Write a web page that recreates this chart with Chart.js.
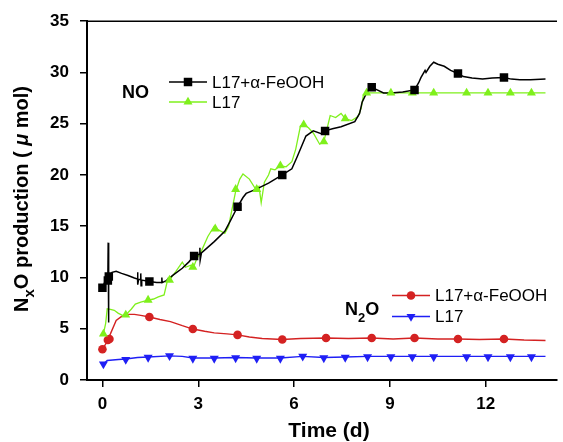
<!DOCTYPE html>
<html>
<head>
<meta charset="utf-8">
<script src="https://cdn.jsdelivr.net/npm/chart.js@4/dist/chart.umd.min.js"></script>
<style>
  html, body { margin: 0; padding: 0; background: #fff; overflow: hidden; }
  #wrap { width: 563px; height: 442px; }
</style>
</head>
<body>
<div id="wrap"><canvas id="chart" width="563" height="442"></canvas></div>
<script>
// x ticks shown on the time axis (days)
const xTicks = [0, 3, 6, 9, 12];

// NO, L17 + alpha-FeOOH: trace [day, umol] and marker points
const noFeLine = [
  [0, 9.0], [0.08, 9.6], [0.17, 10.0], [0.18, 13.4], [0.19, 5.6], [0.2, 10.1], [0.3, 10.5],
  [0.43, 10.6], [0.6, 10.4], [0.8, 10.2], [1.0, 9.95], [1.1, 9.85], [1.1, 10.5], [1.11, 9.3],
  [1.13, 9.8], [1.2, 9.8], [1.2, 10.4], [1.21, 9.2], [1.23, 9.75], [1.47, 9.6], [1.7, 9.5],
  [1.85, 9.5], [1.86, 10.0], [1.87, 9.5], [2.0, 9.7], [2.2, 10.2], [2.5, 10.9], [2.7, 11.5],
  [2.87, 12.1], [3.05, 12.3], [3.05, 12.9], [3.06, 11.7], [3.1, 12.4], [3.5, 13.5], [3.83, 14.5],
  [4.0, 15.5], [4.23, 16.9], [4.4, 17.8], [4.5, 18.2], [4.8, 18.6], [5.2, 19.2], [5.63, 20.0],
  [5.93, 20.6], [6.1, 21.8], [6.37, 23.8], [6.6, 24.3], [6.87, 24.0], [6.97, 24.3], [7.2, 24.5],
  [7.47, 24.7], [7.9, 25.2], [8.05, 26.0], [8.13, 27.1], [8.3, 28.2], [8.43, 28.55], [8.6, 28.3],
  [8.8, 28.0], [9.03, 28.0], [9.4, 28.1], [9.77, 28.3], [9.9, 29.0], [9.97, 29.5], [10.1, 30.2],
  [10.13, 30.0], [10.25, 30.6], [10.37, 31.0], [10.5, 30.8], [10.7, 30.6], [10.9, 30.2],
  [11.13, 29.9], [11.3, 29.6], [11.57, 29.45], [11.9, 29.35], [12.2, 29.45], [12.57, 29.5],
  [12.8, 29.35], [13.07, 29.3], [13.4, 29.3], [13.87, 29.35]
];
const noFeMarks = [
  [0, 9.0], [0.17, 9.7], [0.2, 10.1], [1.47, 9.6], [2.87, 12.1], [4.23, 16.9], [5.63, 20.0],
  [6.97, 24.3], [8.43, 28.55], [9.77, 28.3], [11.13, 29.9], [12.57, 29.5]
];

// NO, L17
const noLine = [
  [0.03, 4.5], [0.1, 5.5], [0.15, 6.95], [0.25, 6.9], [0.37, 6.8], [0.5, 6.5], [0.63, 6.3],
  [0.73, 6.35], [0.9, 6.9], [1.03, 7.4], [1.2, 7.6], [1.43, 7.8], [1.6, 7.9], [1.75, 8.1],
  [1.93, 8.3], [2.05, 9.9], [2.1, 9.75], [2.3, 10.6], [2.5, 11.5], [2.6, 11.0], [2.77, 11.2],
  [2.85, 11.0], [2.95, 11.8], [3.1, 12.6], [3.3, 14.0], [3.5, 15.0], [3.6, 14.7], [3.83, 14.3],
  [3.95, 15.0], [4.17, 18.4], [4.3, 19.6], [4.4, 20.1], [4.6, 19.6], [4.8, 18.6], [4.9, 18.9],
  [4.97, 17.3], [5.07, 19.3], [5.2, 20.0], [5.27, 20.6], [5.4, 20.5], [5.57, 20.9], [5.75, 20.8],
  [5.93, 21.3], [6.05, 22.5], [6.2, 24.8], [6.3, 24.9], [6.45, 24.6], [6.6, 24.1], [6.8, 23.0],
  [6.93, 23.25], [7.03, 24.5], [7.13, 25.8], [7.3, 25.6], [7.47, 26.0], [7.6, 25.5], [7.8, 25.3],
  [8.0, 25.7], [8.1, 26.5], [8.17, 27.8], [8.27, 28.0], [13.87, 28.0]
];
const noMarks = [
  [0.03, 4.5], [0.73, 6.35], [1.43, 7.8], [2.1, 9.75], [2.83, 11.0], [3.53, 14.75], [4.17, 18.6],
  [4.83, 18.6], [5.57, 20.9], [6.3, 24.9], [6.93, 23.25], [7.6, 25.5], [8.27, 28.0], [9.03, 28.0],
  [9.7, 28.0], [10.37, 28.0], [11.4, 28.0], [12.07, 28.0], [12.77, 28.0], [13.43, 28.0]
];

// N2O, L17 + alpha-FeOOH
const n2oFeLine = [
  [0, 3.0], [0.1, 3.5], [0.17, 4.0], [0.25, 4.5], [0.43, 5.8], [0.6, 6.2], [0.77, 6.4], [1.0, 6.4],
  [1.2, 6.3], [1.47, 6.15], [1.8, 5.9], [2.13, 5.7], [2.5, 5.3], [2.83, 4.97], [3.2, 4.75],
  [3.5, 4.6], [3.9, 4.5], [4.23, 4.4], [4.6, 4.2], [5.0, 4.05], [5.63, 3.95], [6.2, 4.05],
  [7.0, 4.1], [7.7, 4.05], [8.43, 4.1], [9.1, 4.0], [9.77, 4.1], [10.5, 4.0], [11.13, 4.0],
  [11.8, 3.95], [12.57, 4.0], [13.2, 3.9], [13.87, 3.85]
];
const n2oFeMarks = [
  [0, 3.0], [0.17, 3.9], [0.22, 4.0], [1.47, 6.15], [2.83, 4.97], [4.23, 4.4], [5.63, 3.95],
  [7.0, 4.1], [8.43, 4.1], [9.77, 4.1], [11.13, 4.0], [12.57, 4.0]
];

// N2O, L17
const n2oLine = [
  [0.03, 1.55], [0.15, 1.9], [0.5, 2.0], [0.73, 2.05], [1.1, 2.2], [1.43, 2.25], [2.1, 2.35],
  [2.5, 2.3], [2.83, 2.15], [3.5, 2.15], [4.17, 2.2], [4.83, 2.15], [5.57, 2.15], [6.27, 2.3],
  [6.93, 2.2], [7.6, 2.25], [8.3, 2.3], [13.87, 2.3]
];
const n2oMarks = [
  [0.03, 1.55], [0.73, 2.0], [1.43, 2.2], [2.1, 2.35], [2.83, 2.1], [3.5, 2.1], [4.17, 2.15],
  [4.83, 2.1], [5.57, 2.1], [6.27, 2.3], [6.93, 2.15], [7.6, 2.2], [8.3, 2.25], [9.03, 2.25],
  [9.7, 2.25], [10.37, 2.25], [11.4, 2.25], [12.07, 2.25], [12.77, 2.25], [13.43, 2.25]
];

const seriesLabels = ['L17+\u03b1-FeOOH', 'L17'];

const COLORS = {
  noFe: '#000000',
  no: '#7ff01c',
  n2oFe: '#d42222',
  n2o: '#1f1ff5',
};

const FONT = '"Liberation Sans", Arial, Helvetica, sans-serif';
const pts = arr => arr.map(([x, y]) => ({ x, y }));

function lineSet(data, color, width, order) {
  return {
    type: 'line', data: pts(data), borderColor: color, borderWidth: width,
    pointRadius: 0, tension: 0, fill: false, order,
  };
}
function markSet(data, color, style, radius, rotation, order) {
  return {
    type: 'scatter', data: pts(data), showLine: false, backgroundColor: color,
    borderColor: color, borderWidth: 0, pointStyle: style, pointRadius: radius,
    rotation, order,
  };
}

// draws a legend marker in the same style as the dataset points
function marker(ctx, style, x, y, r, color, rot) {
  ctx.save();
  ctx.fillStyle = color;
  ctx.beginPath();
  if (style === 'rect') {
    const s = Math.SQRT1_2 * r;
    ctx.rect(x - s, y - s, 2 * s, 2 * s);
  } else if (style === 'circle') {
    ctx.arc(x, y, r, 0, Math.PI * 2);
  } else {
    let a = (rot || 0) * Math.PI / 180;
    ctx.moveTo(x + Math.sin(a) * r, y - Math.cos(a) * r);
    a += 2 * Math.PI / 3;
    ctx.lineTo(x + Math.sin(a) * r, y - Math.cos(a) * r);
    a += 2 * Math.PI / 3;
    ctx.lineTo(x + Math.sin(a) * r, y - Math.cos(a) * r);
  }
  ctx.closePath();
  ctx.fill();
  ctx.restore();
}

function legendRow(ctx, x0, x1, y, color, style, r, rot, text) {
  ctx.save();
  ctx.strokeStyle = color;
  ctx.lineWidth = 1.4;
  ctx.beginPath();
  ctx.moveTo(x0, y);
  ctx.lineTo(x1, y);
  ctx.stroke();
  marker(ctx, style, (x0 + x1) / 2, y, r, color, rot);
  ctx.fillStyle = '#000';
  ctx.font = '17px ' + FONT;
  ctx.textBaseline = 'middle';
  ctx.textAlign = 'left';
  ctx.fillText(text, x1 + 5, y + 1);
  ctx.restore();
}

const decorPlugin = {
  id: 'decor',
  afterDraw(chart) {
    const { ctx, chartArea } = chart;
    ctx.save();
    // top frame line
    ctx.strokeStyle = '#000';
    ctx.lineWidth = 1.5;
    ctx.beginPath();
    ctx.moveTo(chartArea.left, chartArea.top);
    ctx.lineTo(chartArea.right, chartArea.top);
    ctx.stroke();

    // group labels
    ctx.fillStyle = '#000';
    ctx.font = 'bold 18px ' + FONT;
    ctx.textBaseline = 'alphabetic';
    ctx.textAlign = 'left';
    ctx.fillText('NO', 122, 98);
    ctx.fillText('N', 345, 315);
    const w = ctx.measureText('N').width;
    ctx.font = 'bold 13px ' + FONT;
    ctx.fillText('2', 345 + w, 322);
    const w2 = ctx.measureText('2').width;
    ctx.font = 'bold 18px ' + FONT;
    ctx.fillText('O', 345 + w + w2, 315);

    legendRow(ctx, 169, 207, 82, COLORS.noFe, 'rect', 6, 0, seriesLabels[0]);
    legendRow(ctx, 169, 207, 102, COLORS.no, 'triangle', 5.2, 0, seriesLabels[1]);
    legendRow(ctx, 392, 430, 295.5, COLORS.n2oFe, 'circle', 4.3, 0, seriesLabels[0]);
    legendRow(ctx, 392, 430, 316.5, COLORS.n2o, 'triangle', 5.2, 180, seriesLabels[1]);

    // x axis title
    ctx.font = 'bold 21px ' + FONT;
    ctx.textAlign = 'center';
    ctx.fillText('Time (d)', 329, 437);

    // y axis title with subscript x
    const parts = [
      ['N', 'bold 20px ' + FONT, 0],
      ['x', 'bold 15px ' + FONT, 6],
      ['O production ( ', 'bold 20px ' + FONT, 0],
      ['\u03bc', 'bold italic 20px ' + FONT, 0],
      [' mol)', 'bold 20px ' + FONT, 0],
    ];
    let total = 0;
    parts.forEach(p => { ctx.font = p[1]; total += ctx.measureText(p[0]).width; });
    ctx.translate(28, 199);
    ctx.rotate(-Math.PI / 2);
    ctx.textAlign = 'left';
    let x = -total / 2;
    parts.forEach(p => {
      ctx.font = p[1];
      ctx.fillText(p[0], x, p[2]);
      x += ctx.measureText(p[0]).width;
    });
    ctx.restore();
  },
};

new Chart(document.getElementById('chart'), {
  data: {
    datasets: [
      markSet(noFeMarks, COLORS.noFe, 'rect', 6, 0, 1),
      markSet(noMarks, COLORS.no, 'triangle', 5.2, 0, 2),
      markSet(n2oFeMarks, COLORS.n2oFe, 'circle', 4.3, 0, 3),
      markSet(n2oMarks, COLORS.n2o, 'triangle', 5.2, 180, 4),
      lineSet(noFeLine, COLORS.noFe, 1.5, 5),
      lineSet(noLine, COLORS.no, 1.3, 6),
      lineSet(n2oFeLine, COLORS.n2oFe, 1.4, 7),
      lineSet(n2oLine, COLORS.n2o, 1.4, 8),
    ],
  },
  options: {
    responsive: false,
    animation: false,
    devicePixelRatio: 1,
    layout: { padding: { top: 19, right: 0, left: 0, bottom: 0 } },
    plugins: { legend: { display: false }, tooltip: { enabled: false } },
    scales: {
      x: {
        type: 'linear', position: 'bottom', min: -0.483, max: 14.23,
        afterFit: s => { s.height = 62; },
        afterBuildTicks: s => { s.ticks = xTicks.map(v => ({ value: v })); },
        grid: { drawOnChartArea: false, drawTicks: true, tickLength: 7, color: '#000', lineWidth: 1.5 },
        border: { color: '#000', width: 2 },
        ticks: { color: '#000', font: { family: FONT, size: 17, weight: 'bold' }, padding: 7, maxRotation: 0 },
      },
      y: {
        type: 'linear', min: 0, max: 35,
        afterFit: s => { s.width = 87; },
        grid: { drawOnChartArea: false, drawTicks: true, tickLength: 7, color: '#000', lineWidth: 1.5 },
        border: { color: '#000', width: 2 },
        ticks: { stepSize: 5, color: '#000', font: { family: FONT, size: 17, weight: 'bold' }, padding: 11 },
      },
    },
  },
  plugins: [decorPlugin],
});
</script>
</body>
</html>
